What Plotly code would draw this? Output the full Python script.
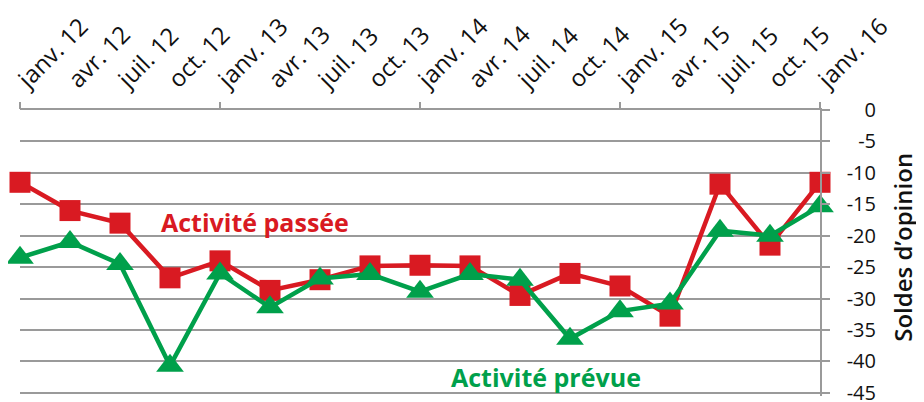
import plotly.graph_objects as go

# ---- data ----
periods = ["janv. 12", "avr. 12", "juil. 12", "oct. 12",
           "janv. 13", "avr. 13", "juil. 13", "oct. 13",
           "janv. 14", "avr. 14", "juil. 14", "oct. 14",
           "janv. 15", "avr. 15", "juil. 15", "oct. 15",
           "janv. 16"]
activite_passee = [-11.5, -16, -18, -26.7, -24, -28.7, -27, -24.8,
                   -24.7, -24.8, -29.5, -26, -28, -32.8, -11.8, -21.5, -11.5]
activite_prevue = [-23.5, -21, -24.5, -40.7, -26, -31.4, -26.8, -26.1,
                   -28.9, -26.1, -27, -36.4, -32, -30.8, -19.2, -20, -15.3]
y_ticks = [0, -5, -10, -15, -20, -25, -30, -35, -40, -45]
y_ticktext = ["0", "-5", "-10", "-15", "-20", "-25", "-30", "-35", "-40", "-45"]
year_starts = ["janv. 12", "janv. 13", "janv. 14", "janv. 15", "janv. 16"]
series_names = ["Activité passée", "Activité prévue"]
y_title = "Soldes d’opinion"

RED = "#d91a22"
GREEN = "#00a04b"
GRID = "#9a9a9a"
TXT = "#111111"
FONT = "Open Sans"

idx = list(range(len(periods)))
year_idx = [periods.index(p) for p in year_starts]

fig = go.Figure()
fig.add_trace(go.Scatter(
    x=idx, y=activite_passee, mode="lines+markers", name=series_names[0],
    line=dict(color=RED, width=4.5),
    marker=dict(symbol="square", size=21, color=RED),
    cliponaxis=False, showlegend=False))
fig.add_trace(go.Scatter(
    x=idx, y=activite_prevue, mode="lines+markers", name=series_names[1],
    line=dict(color=GREEN, width=4.5),
    marker=dict(symbol="triangle-up", size=24, color=GREEN),
    cliponaxis=False, showlegend=False))
# invisible helper trace so the overlay axes are drawn
fig.add_trace(go.Scatter(
    x=idx, y=activite_passee, xaxis="x2", yaxis="y2", mode="markers",
    marker=dict(opacity=0), hoverinfo="skip", showlegend=False))

# the page body has an 8px margin, so the figure is sized/offset for it
W, H = 916, 394
ml, mr, mt, mb = 12, 3, 102, 6
paper_w = W - ml - mr
plot_right_px = 812
dom_x = (plot_right_px - ml) / paper_w
label_pos = (868 - ml) / paper_w
y_range = [-45.5, 0]

fig.update_layout(
    width=W, height=H,
    margin=dict(l=ml, r=mr, t=mt, b=mb, autoexpand=False),
    plot_bgcolor="white", paper_bgcolor="white",
    font=dict(family=FONT, size=21, color=TXT),
    xaxis=dict(
        domain=[0, dom_x], range=[0, len(periods) - 1], side="top",
        tickmode="array", tickvals=idx, ticktext=periods, tickangle=-45,
        ticks="", ticklabelstandoff=6, ticklabeloverflow="allow",
        showgrid=False, zeroline=False,
        automargin=False, showline=True, linecolor=GRID, linewidth=1.5,
        tickfont=dict(family=FONT, size=24, color=TXT)),
    xaxis2=dict(
        domain=[0, dom_x], range=[0, len(periods) - 1], overlaying="x",
        side="top", anchor="y", tickmode="array", tickvals=year_idx,
        ticktext=[""] * len(year_idx), ticks="outside", ticklen=7,
        tickcolor=GRID, tickwidth=1.5, showgrid=False, zeroline=False,
        showline=False, automargin=False),
    yaxis=dict(
        range=y_range, side="right", anchor="x",
        tickmode="array", tickvals=y_ticks, showticklabels=False,
        ticks="outside", ticklen=8, tickcolor=GRID, tickwidth=1.5,
        showgrid=True, gridcolor=GRID, gridwidth=1.5, zeroline=False,
        showline=True, linecolor=GRID, linewidth=1.5, automargin=False),
    yaxis2=dict(
        range=y_range, overlaying="y", side="left", anchor="free",
        position=label_pos, tickmode="array", tickvals=y_ticks,
        ticktext=y_ticktext, ticks="", showgrid=False, zeroline=False,
        showline=False, automargin=False, ticklabeloverflow="allow",
        tickfont=dict(family=FONT, size=20, color=TXT)),
    annotations=[
        dict(x=4.7, y=-17.8, xref="x", yref="y", text=series_names[0],
             showarrow=False, font=dict(family=FONT, size=25, color=RED, weight="bold")),
        dict(x=10.52, y=-42.5, xref="x", yref="y", text=series_names[1],
             showarrow=False, font=dict(family=FONT, size=25, color=GREEN, weight="bold")),
        dict(x=1.0, y=0.52, xref="paper", yref="paper", xanchor="right",
             yanchor="middle", text=y_title, textangle=-90, showarrow=False,
             font=dict(family=FONT, size=24, color=TXT, weight=600)),
    ],
)

fig.write_html("out.html")
